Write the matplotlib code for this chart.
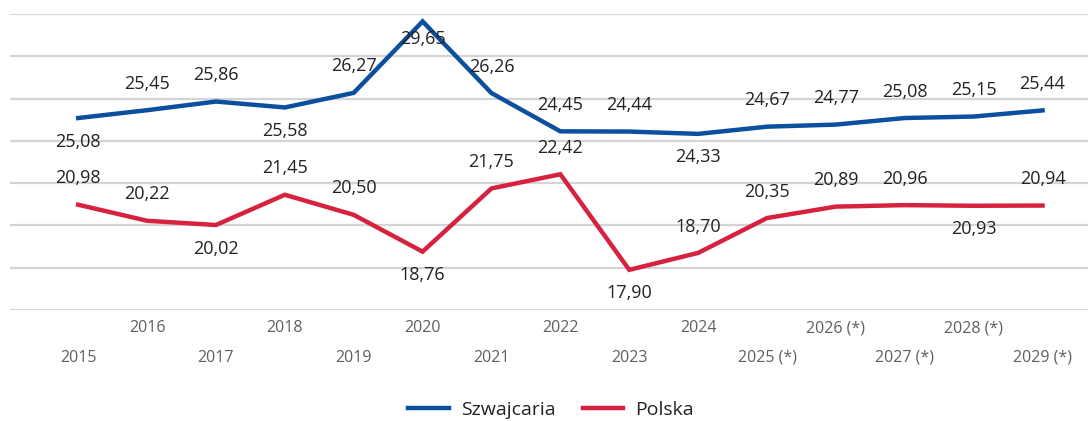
import matplotlib
matplotlib.use("Agg")
import matplotlib.pyplot as plt

# data
years = ["2015", "2016", "2017", "2018", "2019", "2020", "2021", "2022",
         "2023", "2024", "2025 (*)", "2026 (*)", "2027 (*)", "2028 (*)", "2029 (*)"]
szwajcaria = [25.08, 25.45, 25.86, 25.58, 26.27, 29.65, 26.26, 24.45,
              24.44, 24.33, 24.67, 24.77, 25.08, 25.15, 25.44]
polska = [20.98, 20.22, 20.02, 21.45, 20.50, 18.76, 21.75, 22.42,
          17.90, 18.70, 20.35, 20.89, 20.96, 20.93, 20.94]

# vertical label offsets in points (+ above, - below)
szw_offsets = [-17, 19, 19, -17, 19, -13, 19, 19, 19, -17, 19, 19, 19, 19, 19]
pol_offsets = [19, 19, -17, 19, 19, -17, 19, 19, -17, 19, 19, 19, 19, -17, 19]

BLUE = "#0b4f9f"
RED = "#d6223f"
TEXT = "#222222"
TICK = "#5f5f5f"

plt.rcParams['font.family'] = ['Open Sans', 'DejaVu Sans']

fig = plt.figure(figsize=(10.91, 4.21), dpi=100)
ax = fig.add_axes([10 / 1091, 111 / 421, 1078 / 1091, 296 / 421])

x = list(range(len(years)))
ax.plot(x, szwajcaria, color=BLUE, lw=3.2, solid_joinstyle='miter', label="Szwajcaria", zorder=3)
ax.plot(x, polska, color=RED, lw=3.2, solid_joinstyle='miter', label="Polska", zorder=3)

def fmt(v):
    return f"{v:.2f}".replace(".", ",")

for xi, v, off in zip(x, szwajcaria, szw_offsets):
    ax.annotate(fmt(v), (xi, v), xytext=(0, off), textcoords='offset points',
                ha='center', va='center', fontsize=13, color=TEXT, zorder=4)
for xi, v, off in zip(x, polska, pol_offsets):
    ax.annotate(fmt(v), (xi, v), xytext=(0, off), textcoords='offset points',
                ha='center', va='center', fontsize=13, color=TEXT, zorder=4)

ax.set_xlim(-0.99, 14.66)
ax.set_ylim(16, 30)
ax.set_yticks(range(16, 31, 2))
ax.yaxis.grid(True, color="#d4d4d4", lw=1.6)
ax.set_axisbelow(True)
ax.tick_params(left=False, labelleft=False, bottom=False, labelbottom=False)
for s in ax.spines.values():
    s.set_visible(False)

# staggered year labels
for i, lab in enumerate(years):
    dy = -34.5 if i % 2 == 0 else -13
    ax.annotate(lab, (i, 0), xycoords=('data', 'axes fraction'), xytext=(0, dy),
                textcoords='offset points', ha='center', va='center',
                fontsize=11.5, color=TICK, annotation_clip=False)

fig.legend(loc='center', bbox_to_anchor=(551 / 1091, 1 - 410 / 421), ncol=2,
           frameon=False, fontsize=14, handlelength=2.1, handletextpad=0.6,
           columnspacing=1.4, labelcolor=TEXT)

fig.savefig("out.png", dpi=100)
